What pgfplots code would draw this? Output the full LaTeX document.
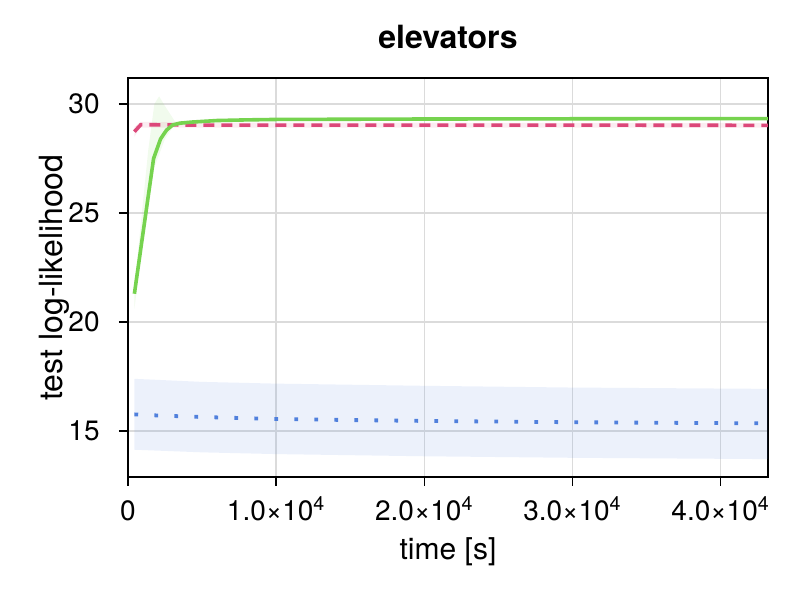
\documentclass[border=0pt]{standalone}
\usepackage{pgfplots}
\pgfplotsset{compat=1.18}
\usepackage{fontspec}
\setmainfont{TeX Gyre Heros}
\definecolor{cgreen}{RGB}{118,211,79}
\definecolor{cpink}{RGB}{220,72,122}
\definecolor{cblue}{RGB}{80,128,220}
\begin{document}
\begin{tikzpicture}
\useasboundingbox (0,0) rectangle (400pt,300pt);
\begin{axis}[
  at={(64pt,61.5pt)}, anchor=south west,
  scale only axis, width=320pt, height=199.5pt,
  xmin=0, xmax=43200, ymin=12.9, ymax=31.19,
  axis line style={line width=0.8pt},
  tick pos=left, tick align=outside,
  major tick length=4.5pt,
  tick style={black, line width=0.7pt},
  xtick={0,10000,20000,30000,40000},
  xticklabels={0,1.0×10\textsuperscript{4},2.0×10\textsuperscript{4},3.0×10\textsuperscript{4},4.0×10\textsuperscript{4}},
  scaled x ticks=false,
  ytick={15,20,25,30},
  /pgf/number format/assume math mode=true,
  grid=major,
  major grid style={black!14, line width=0.7pt},
  ticklabel style={font=\fontsize{14}{16}\selectfont},
  xticklabel style={anchor=base, inner sep=0pt, yshift=-17.5pt},
  yticklabel style={anchor=east, inner sep=0pt, xshift=-9.5pt},
  title={\textbf{elevators}},
  title style={at={(axis description cs:0.5,1.045)}, anchor=base, yshift=0pt, font=\fontsize{16}{18}\selectfont, inner sep=0pt},
  xlabel={time [s]},
  xlabel style={at={(axis description cs:0.5,-0.208)}, anchor=base, font=\fontsize{15}{17}\selectfont, inner sep=0pt},
  ylabel={test log-likelihood},
  ylabel style={at={(axis description cs:-0.103,0.5)}, anchor=base, font=\fontsize{16}{18}\selectfont, inner sep=0pt},
]
% blue band
\addplot[draw=none, fill=cblue, fill opacity=0.11] coordinates {
(432,17.40) (5000,17.26) (10000,17.18) (20000,17.08) (30000,17.00) (43200,16.94)
(43200,13.72) (30000,13.78) (20000,13.85) (10000,13.95) (5000,14.03) (432,14.15)} -- cycle;
% green band
\addplot[draw=none, fill=cgreen, fill opacity=0.1] coordinates {
(432,21.6) (1370,27.9) (1780,30.0) (2100,30.35) (2500,29.9) (3170,29.2) (4320,29.22) (6000,29.29) (10000,29.34) (20000,29.36) (30000,29.37) (43200,29.38)
(43200,29.28) (30000,29.27) (20000,29.26) (10000,29.24) (6000,29.19) (4320,29.1) (3024,28.95) (2500,28.4) (1728,27.0) (1200,24.8) (432,20.6)} -- cycle;
% pink band
\addplot[draw=none, fill=cpink, fill opacity=0.1] coordinates {
(432,28.95) (864,29.18) (5000,29.15) (20000,29.14) (43200,29.13)
(43200,28.91) (20000,28.92) (5000,28.91) (864,28.92) (432,28.5)} -- cycle;
% blue dotted
\addplot[cblue, line width=1.9pt, dash pattern=on 1.9pt off 8.1pt] coordinates {
(432,15.77) (2000,15.72) (5000,15.65) (10000,15.56) (15000,15.51) (20000,15.47) (25000,15.44) (30000,15.41) (35000,15.39) (40000,15.37) (43200,15.36)};
% pink dashed
\addplot[cpink, line width=1.8pt, dash pattern=on 5.5pt off 3.5pt] coordinates {
(432,28.73) (864,29.05) (5000,29.03) (10000,29.03) (20000,29.03) (30000,29.03) (43200,29.02)};
% green
\addplot[cgreen, line width=1.8pt] coordinates {
(432,21.3) (1728,27.5) (2200,28.4) (2600,28.8) (3024,29.04) (3500,29.12) (4320,29.17) (6000,29.24) (8000,29.27) (10000,29.29) (15000,29.30) (20000,29.31) (30000,29.32) (40000,29.33) (43200,29.33)};
\end{axis}
\end{tikzpicture}
\end{document}
